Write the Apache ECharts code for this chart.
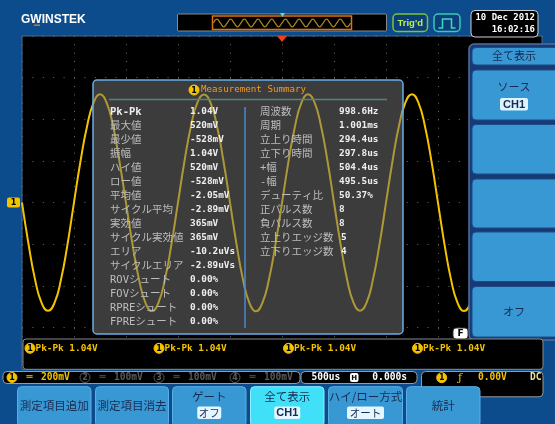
<!DOCTYPE html>
<html><head><meta charset="utf-8">
<style>html,body{margin:0;padding:0;background:#0c4c8c}#c{width:555px;height:424px}</style>
<script src="https://cdn.jsdelivr.net/npm/echarts/dist/echarts.min.js"></script>
</head><body><div id="c"></div>
<script>
// ---------- DATA ----------
// CH1 waveform samples (mV), read from the screen, one sample every 62.5 us starting at -2500 us
const ch1StartUs = -2500;
const ch1StepUs = 62.5;
const ch1mV = [
  0, -198, -367, -480, -519, -481, -369, -200, 2, 199, 366, 479, 520, 482, 369, 197,
  -1, -200, -368, -481, -520, -479, -366, -198, 1, 200, 368, 481, 519, 480, 367, 199,
  0, -199, -369, -482, -521, -480, -367, -199, -2, 198, 367, 480, 520, 481, 368, 200,
  1, -197, -366, -479, -518, -481, -368, -200, 0, 199, 369, 482, 521, 479, 366, 198,
  -1, -200, -368, -480, -520, -482, -369, -198, 1, 200, 367, 480, 519, 481, 368, 199,
  0
];
// memory overview strip (relative amplitude)
const memWave = [
  0, 1, 0, -1, 0, 1, 0, -1, 0, 1, 0, -1, 0, 1, 0, -1, 0, 1, 0, -1,
  0, 1, 0, -1, 0, 1, 0, -1, 0, 1, 0, -1, 0, 1, 0, -1, 0, 1, 0, -1, 0
];
const summaryTitle = 'Measurement Summary';
const leftLabels = ['Pk-Pk','最大値','最少値','振幅','ハイ値','ロー値','平均値','サイクル平均','実効値','サイクル実効値','エリア','サイクルエリア','ROVシュート','FOVシュート','RPREシュート','FPREシュート'];
const leftValues = ['1.04V','520mV','-528mV','1.04V','520mV','-528mV','-2.05mV','-2.89mV','365mV','365mV','-10.2uVs','-2.89uVs','0.00%','0.00%','0.00%','0.00%'];
const rightLabels = ['周波数','周期','立上り時間','立下り時間','+幅','-幅','デューティ比','正パルス数','負パルス数','立上りエッジ数','立下りエッジ数'];
const rightValues = ['998.6Hz','1.001ms','294.4us','297.8us','504.4us','495.5us','50.37%','8','8','5','4'];
const measBar = ['Pk-Pk 1.04V','Pk-Pk 1.04V','Pk-Pk 1.04V','Pk-Pk 1.04V'];
const chScales = ['200mV','100mV','100mV','100mV'];
const timebase = '500us', hPos = '0.000s', trigLevel = '0.00V', coupling = 'DC';
const dateText = '10 Dec 2012', timeText = '16:02:16';
const sideMenu = [['全て表示'],['ソース','CH1'],[],[],[],['オフ']];
const bottomMenu = [['測定項目追加'],['測定項目消去'],['ゲート','オフ'],['全て表示','CH1'],['ハイ/ロー方式','オート'],['統計']];
const xTicksUs = {min:-2500, max:2500, interval:500};
const yTicksMv = {min:-800, max:800, interval:200};

// ---------- LAYOUT ----------
const SCR = {left:22, top:36, width:520, height:333.4};
const BOX = {x:93, y:80, w:310, h:254};
const MONO = '"DejaVu Sans Mono","Noto Sans CJK JP",monospace';
const CJK = '"Noto Sans CJK JP","DejaVu Sans",sans-serif';
const YEL = '#f4c300';

const ch1 = ch1mV.map((v, i) => [ch1StartUs + i * ch1StepUs, v]);
const memData = memWave.map((v, i) => [i, v]);

const xSpan = xTicksUs.max - xTicksUs.min, ySpan = yTicksMv.max - yTicksMv.min;
const boxX0 = xTicksUs.min + (BOX.x - SCR.left) / SCR.width * xSpan;
const boxX1 = xTicksUs.min + (BOX.x + BOX.w - SCR.left) / SCR.width * xSpan;
const boxY1 = yTicksMv.max - (BOX.y - SCR.top) / SCR.height * ySpan;
const boxY0 = yTicksMv.max - (BOX.y + BOX.h - SCR.top) / SCR.height * ySpan;

const G = [];
function R(x, y, w, h, fill, stroke, lw, r, z) {
  G.push({type:'rect', z:z, shape:{x:x, y:y, width:w, height:h, r:r || 0},
    style:{fill:fill || 'none', stroke:stroke || 'none', lineWidth:lw || 0}});
}
function L(pts, stroke, lw, z) {
  G.push({type:'polyline', z:z, shape:{points:pts}, style:{stroke:stroke, lineWidth:lw, fill:'none'}});
}
function T(x, y, s, fill, font, align, z) {
  G.push({type:'text', z:z, x:x, y:y, style:{text:s, fill:fill, font:font,
    textAlign:align || 'left', align:align || 'left', textVerticalAlign:'middle', verticalAlign:'middle'}});
}
function icon(cx, cy, n, filled, z) {
  G.push({type:'circle', z:z, shape:{cx:cx, cy:cy, r:5}, style:{fill:filled ? YEL : 'none', stroke:filled ? YEL : '#5a5a5a', lineWidth:1}});
  T(cx, cy + 0.5, String(n), filled ? '#000' : '#5a5a5a', 'bold 8px "DejaVu Sans"', 'center', z + 1);
}

// ---- top bar ----
T(21, 20, 'GWINSTEK', '#ffffff', 'bold 12px "Liberation Sans"', 'left', 5);
R(34, 24.5, 6, 1.5, '#e07010', null, 0, 0, 6);
R(177.5, 14, 209, 17, '#000', '#8a8a8a', 1, 1, 1);
R(212.5, 16, 139, 13.5, 'none', '#e07010', 1.5, 0, 4);
G.push({type:'polygon', z:5, shape:{points:[[280,13],[285,13],[282.5,17]]}, style:{fill:'#40e0f0'}});
R(393, 14, 34.5, 17.5, '#0c3f78', '#7cc23c', 1.5, 4, 1);
T(410.2, 23, "Trig'd", '#b8f050', 'bold 9.5px "Liberation Sans"', 'center', 2);
R(434, 14, 26, 17.5, '#0c3f78', '#3cc8b8', 1.5, 4, 1);
L([[438.5,28],[442.5,28],[442.5,19],[451.5,19],[451.5,28],[455.5,28]], '#3cd8c8', 1.5, 2);
R(471, 10.5, 67, 26.5, '#000', '#d0d0d0', 1, 4, 1);
T(535, 17.5, dateText, '#ffffff', 'bold 9px ' + MONO, 'right', 2);
T(535, 29.5, timeText, '#ffffff', 'bold 9px ' + MONO, 'right', 2);
G.push({type:'polygon', z:5, shape:{points:[[277,36],[287,36],[282,42]]}, style:{fill:'#f04018'}});

// channel marker
R(7, 197.5, 13, 10, YEL, null, 0, 2, 5);
T(13.5, 203, '1', '#000', 'bold 8px "DejaVu Sans"', 'center', 6);

// ---- measurement summary overlay ----
R(BOX.x, BOX.y, BOX.w, BOX.h, '#3c3c3c', null, 0, 4, 3);
R(BOX.x, BOX.y, BOX.w, BOX.h, 'none', '#6aaee6', 1.5, 4, 6);
icon(194, 90, 1, true, 6);
T(201, 90, summaryTitle, '#f09a28', '9.2px ' + MONO, 'left', 6);
L([[109,99.5],[387,99.5]], '#4e8484', 1.5, 6);
L([[245,107],[245,328]], '#4a88d0', 1.5, 6);
leftLabels.forEach((s, i) => T(110, 112 + 14 * i, s, i === 0 ? '#eeeeee' : '#bdbdbd', (i === 0 ? 'bold ' : '') + '10.5px ' + MONO, 'left', 6));
leftValues.forEach((s, i) => T(190, 112 + 14 * i, s, '#eeeeee', 'bold 9.4px ' + MONO, 'left', 6));
rightLabels.forEach((s, i) => T(260, 112 + 14 * i, s, '#bdbdbd', '10.5px ' + MONO, 'left', 6));
rightValues.forEach((s, i) => T(i >= 9 ? 341 : 339, 112 + 14 * i, s, '#eeeeee', 'bold 9.4px ' + MONO, 'left', 6));

// ---- right side menu ----
R(469, 44, 92, 296, '#173a72', '#4f6f9f', 1.5, 5, 10);
const sideY = [[47.5,65],[70,120],[124.5,174],[179,228],[232,281.5],[286.5,337]];
sideY.forEach((b, i) => {
  R(472, b[0], 90, b[1] - b[0], '#3898d4', '#1d4a8c', 1, 4, 11);
  const lab = sideMenu[i];
  if (lab.length === 1) T(514, (b[0] + b[1]) / 2, lab[0], '#1a2a50', '11px ' + CJK, 'center', 12);
  if (lab.length === 2) {
    T(514, 86.7, lab[0], '#1a2a50', '11px ' + CJK, 'center', 12);
    R(500, 98, 28, 12.5, '#dcf4ff', null, 0, 2, 12);
    T(514, 104.5, lab[1], '#1a2a50', 'bold 11px "Liberation Sans"', 'center', 13);
  }
});
R(453, 328, 15, 11, '#ffffff', '#333', 1, 3, 12);
T(460.5, 333.8, 'F', '#000', 'bold 9px "DejaVu Sans"', 'center', 13);

// ---- measurement bar ----
R(23, 339, 520, 30.3, '#000', '#8a8a8a', 1, 3, 10);
[30, 159, 288.5, 417.5].forEach((x, i) => {
  icon(x, 348.3, 1, true, 11);
  T(x + 5.5, 348.3, measBar[i], YEL, 'bold 9.4px ' + MONO, 'left', 11);
});

// ---- status bar ----
R(3, 371.5, 297, 12, '#000', '#9a9a9a', 1, 4, 10);
const chX = [12, 85, 159, 235];
chX.forEach((x, i) => {
  const on = i === 0;
  icon(x, 377.5, i + 1, on, 11);
  T(x + 14.5, 377.5, '═', on ? YEL : '#5a5a5a', 'bold 10px ' + MONO, 'left', 11);
  T(x + 29, 377.5, chScales[i], on ? YEL : '#5a5a5a', 'bold 9.6px ' + MONO, 'left', 11);
});
R(301, 371.5, 116, 12, '#000', '#9a9a9a', 1, 4, 10);
T(311.5, 377.5, timebase, '#ffffff', 'bold 9.6px ' + MONO, 'left', 11);
R(350, 373, 8.5, 9, '#ffffff', null, 0, 2, 11);
T(354.3, 377.8, 'H', '#000', 'bold 7px "DejaVu Sans"', 'center', 12);
T(407, 377.5, hPos, '#ffffff', 'bold 9.6px ' + MONO, 'right', 11);
R(421.5, 371.5, 121.5, 25.3, '#000', '#9a9a9a', 1, 4, 10);
icon(441.7, 377.7, 1, true, 11);
T(460, 377.7, 'ƒ', YEL, '11px "DejaVu Serif"', 'center', 11);
T(478, 377.7, trigLevel, YEL, 'bold 9.6px ' + MONO, 'left', 11);
T(541.5, 377.7, coupling, '#e8e0a0', 'bold 9.6px ' + MONO, 'right', 11);

// ---- bottom menu ----
const botX = [[17.5,91],[95.5,168.5],[172.5,246],[250.5,324],[328.5,402.5],[406.5,480]];
const pillW = [0, 0, 24, 26, 37, 0];
botX.forEach((b, i) => {
  const hi = i === 3;
  R(b[0], 386.7, b[1] - b[0], 40, hi ? '#40e0f8' : '#3898d4', hi ? '#90f0ff' : '#5aaee6', 1, 4, 11);
  const cx = (b[0] + b[1]) / 2;
  const lab = bottomMenu[i];
  if (lab.length === 1) T(cx, 405.5, lab[0], '#1a2a50', '11.5px ' + CJK, 'center', 12);
  else {
    T(cx, 397, lab[0], '#1a2a50', '11.5px ' + CJK, 'center', 12);
    R(cx - pillW[i] / 2, 406.5, pillW[i], 12.5, '#e4f6ff', null, 0, 2, 12);
    T(cx, 413, lab[1], '#1a2a50', (lab[1] === 'CH1' ? 'bold 11px "Liberation Sans"' : '10.5px ' + CJK), 'center', 13);
  }
});

const chart = echarts.init(document.getElementById('c'), null, {renderer:'canvas'});
const hidden = {axisLine:{show:false}, axisTick:{show:false}, axisLabel:{show:false}, splitLine:{show:false}};
chart.setOption({
  animation:false,
  backgroundColor:'#0c4c8c',
  grid:[
    {left:SCR.left, top:SCR.top, width:SCR.width, height:SCR.height, show:true, backgroundColor:'#000', borderColor:'#3f6d9e', borderWidth:1, z:0},
    {left:213.5, top:18, width:137, height:10},
    {left:BOX.x, top:BOX.y, width:BOX.w, height:BOX.h}
  ],
  xAxis:[
    {type:'value', gridIndex:0, min:xTicksUs.min, max:xTicksUs.max, interval:xTicksUs.interval,
     axisLine:{show:false}, axisTick:{show:false}, axisLabel:{show:false},
     splitLine:{show:true, lineStyle:{color:'#6a6a6a', width:1, type:[1, 7.34]}}},
    Object.assign({type:'value', gridIndex:1, min:0, max:memWave.length - 1}, hidden),
    Object.assign({type:'value', gridIndex:2, min:boxX0, max:boxX1}, hidden)
  ],
  yAxis:[
    {type:'value', gridIndex:0, min:yTicksMv.min, max:yTicksMv.max, interval:yTicksMv.interval,
     axisLine:{show:false}, axisTick:{show:false}, axisLabel:{show:false},
     splitLine:{show:true, lineStyle:{color:'#6a6a6a', width:1, type:[1, 9.4]}}},
    Object.assign({type:'value', gridIndex:1, min:-1.3, max:1.3}, hidden),
    Object.assign({type:'value', gridIndex:2, min:boxY0, max:boxY1}, hidden)
  ],
  series:[
    {type:'line', xAxisIndex:0, yAxisIndex:0, data:ch1, smooth:true, showSymbol:false, z:2,
     lineStyle:{color:YEL, width:2}},
    {type:'line', xAxisIndex:1, yAxisIndex:1, data:memData, smooth:true, showSymbol:false, z:2,
     lineStyle:{color:'#a88420', width:1.2}},
    {type:'line', xAxisIndex:2, yAxisIndex:2, data:ch1, smooth:true, showSymbol:false, z:4,
     lineStyle:{color:'#ad9838', width:2}}
  ],
  graphic:{elements:G}
});
</script></body></html>
